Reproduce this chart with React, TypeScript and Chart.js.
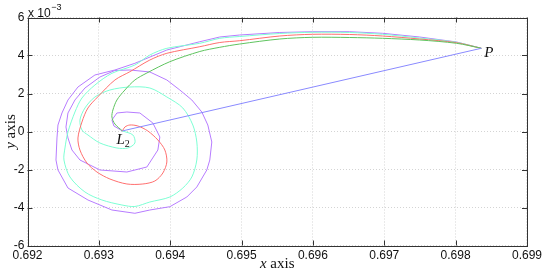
import { useEffect, useRef } from "react";
import { Chart, registerables } from "chart.js";

Chart.register(...registerables);

const P: [number, number] = [0.69836, 4.38];
const L2: [number, number] = [0.69333, 0.03];

const xTicks = [0.692, 0.693, 0.694, 0.695, 0.696, 0.697, 0.698, 0.699];
const yTicks = [-6, -4, -2, 0, 2, 4, 6];

const greenPath: [number, number][] = [
  [0.69836, 4.38], [0.698013, 4.642], [0.697495, 4.816], [0.696977, 4.905], [0.696515, 4.947],
  [0.695997, 4.958], [0.695535, 4.868], [0.694975, 4.605], [0.694695, 4.432], [0.694415, 4.211],
  [0.693995, 3.674], [0.693673, 3.079], [0.693505, 2.711], [0.693365, 2.184], [0.693253, 1.658],
  [0.693197, 1.132], [0.693183, 0.763], [0.693225, 0.395], [0.69333, 0.03],
];

const redPath: [number, number][] = [
  [0.69836, 4.38], [0.698013, 4.674], [0.697495, 4.868], [0.696977, 5.026], [0.696515, 5.105],
  [0.695997, 5.116], [0.695535, 5.026], [0.694975, 4.779], [0.694695, 4.684], [0.694415, 4.463],
  [0.693953, 4.116], [0.693715, 3.763], [0.693435, 3.147], [0.693225, 2.711], [0.692987, 1.832],
  [0.692847, 1.237], [0.692763, 0.5], [0.692707, -0.342], [0.692735, -0.974], [0.692833, -1.658],
  [0.692973, -2.132], [0.693155, -2.5], [0.693393, -2.763], [0.693617, -2.763], [0.693785, -2.605],
  [0.693897, -2.184], [0.693953, -1.605], [0.693925, -0.974], [0.693827, -0.447], [0.693687, 0.026],
  [0.693547, 0.289], [0.693435, 0.342], [0.693365, 0.237], [0.69333, 0.03],
];

const cyanPath: [number, number][] = [
  [0.69836, 4.38], [0.698013, 4.695], [0.697495, 4.921], [0.696977, 5.116], [0.696515, 5.211],
  [0.695997, 5.221], [0.695535, 5.158], [0.694975, 5.0], [0.694695, 4.905], [0.694415, 4.642],
  [0.693953, 4.379], [0.693715, 4.026], [0.693505, 3.5], [0.693183, 3.063], [0.692945, 2.447],
  [0.692763, 1.763], [0.692665, 1.026], [0.692567, -0.026], [0.692525, -0.868], [0.692511, -1.5],
  [0.692595, -2.395], [0.692805, -3.184], [0.693043, -3.605], [0.693323, -3.868], [0.693505, -3.947],
  [0.693715, -3.711], [0.693995, -3.447], [0.694177, -2.974], [0.694303, -2.395], [0.694373, -1.5],
  [0.694373, -0.553], [0.694317, 0.342], [0.694177, 1.237], [0.693953, 1.816], [0.693715, 2.289],
  [0.693435, 2.342], [0.693155, 2.184], [0.692945, 1.816], [0.692805, 1.237], [0.692735, 0.605],
  [0.692763, 0.079], [0.692847, -0.184], [0.693015, -0.605], [0.693253, -0.868], [0.693407, -0.868],
  [0.693505, -0.605], [0.693477, -0.184], [0.69333, 0.03],
];

const purplePath: [number, number][] = [
  [0.69836, 4.38], [0.698013, 4.711], [0.697495, 4.974], [0.696977, 5.168], [0.696515, 5.253],
  [0.695997, 5.253], [0.695535, 5.211], [0.694975, 5.079], [0.694695, 4.974], [0.694415, 4.726],
  [0.693953, 4.289], [0.693505, 3.589], [0.693225, 3.237], [0.692945, 2.974], [0.692707, 2.342],
  [0.692567, 1.658], [0.692483, 0.974], [0.692427, 0.342], [0.692413, -0.342], [0.692399, -1.5],
  [0.692427, -2.026], [0.692567, -2.974], [0.692847, -3.605], [0.693183, -4.132], [0.693505, -4.305],
  [0.693715, -4.132], [0.693995, -3.958], [0.694233, -3.447], [0.694373, -2.921], [0.694513, -2.026],
  [0.694555, -1.5], [0.694583, -0.553], [0.694527, 0.342], [0.694443, 1.026], [0.694303, 1.658],
  [0.694135, 2.184], [0.693953, 2.711], [0.693715, 3.132], [0.693435, 3.237], [0.693225, 3.211],
  [0.693015, 2.868], [0.692805, 2.289], [0.692665, 1.658], [0.692567, 0.974], [0.692539, 0.237],
  [0.692567, -0.342], [0.692623, -0.974], [0.692735, -1.5], [0.693015, -2.026], [0.693393, -2.132],
  [0.693673, -1.868], [0.693827, -0.974], [0.693855, -0.289], [0.693757, 0.447], [0.693575, 0.974],
  [0.693393, 1.026], [0.693253, 0.974], [0.693183, 0.605], [0.693211, 0.289], [0.69333, 0.03],
];

const bluePath: [number, number][] = [L2, P];

const toPts = (a: [number, number][]) => a.map(([x, y]) => ({ x, y }));

const decorPlugin = {
  id: "decor",
  afterDraw(chart: any) {
    const { ctx, chartArea: a, scales } = chart;
    const xs = scales.x;
    const ys = scales.y;
    ctx.save();
    // box
    ctx.strokeStyle = "#333";
    ctx.lineWidth = 1;
    ctx.strokeRect(Math.round(a.left) + 0.5, Math.round(a.top) + 0.5, Math.round(a.right - a.left), Math.round(a.bottom - a.top));
    // inward ticks
    ctx.beginPath();
    const tl = 5;
    xTicks.forEach((v) => {
      const px = Math.round(xs.getPixelForValue(v)) + 0.5;
      ctx.moveTo(px, a.bottom);
      ctx.lineTo(px, a.bottom - tl);
      ctx.moveTo(px, a.top);
      ctx.lineTo(px, a.top + tl);
    });
    yTicks.forEach((v) => {
      const py = Math.round(ys.getPixelForValue(v)) + 0.5;
      ctx.moveTo(a.left, py);
      ctx.lineTo(a.left + tl, py);
      ctx.moveTo(a.right, py);
      ctx.lineTo(a.right - tl, py);
    });
    ctx.stroke();

    ctx.fillStyle = "#111";
    // exponent label
    ctx.textBaseline = "alphabetic";
    ctx.textAlign = "left";
    ctx.font = "12px 'Liberation Sans'";
    ctx.fillText("x 10", a.left + 0.5, a.top - 1);
    const w = ctx.measureText("x 10").width;
    ctx.font = "9px 'Liberation Sans'";
    ctx.fillText("\u22123", a.left + 0.5 + w + 0.5, a.top - 8);

    // P label
    const pX = xs.getPixelForValue(P[0]);
    const pY = ys.getPixelForValue(P[1]);
    ctx.font = "italic 15px 'Liberation Serif'";
    ctx.fillText("P", pX + 3, pY + 9);

    // L2 label
    const lX = xs.getPixelForValue(L2[0]);
    const lY = ys.getPixelForValue(L2[1]);
    ctx.font = "italic 15px 'Liberation Serif'";
    ctx.fillText("L", lX - 6, lY + 13);
    const lw = ctx.measureText("L").width;
    ctx.font = "10px 'Liberation Serif'";
    ctx.fillText("2", lX - 6 + lw, lY + 16);

    // x axis title
    const cx = (a.left + a.right) / 2;
    ctx.font = "italic 15px 'Liberation Serif'";
    const wx = ctx.measureText("x").width;
    ctx.font = "15px 'Liberation Serif'";
    const wa = ctx.measureText(" axis").width;
    const sx = cx - (wx + wa) / 2;
    ctx.font = "italic 15px 'Liberation Serif'";
    ctx.fillText("x", sx, 268);
    ctx.font = "15px 'Liberation Serif'";
    ctx.fillText(" axis", sx + wx, 268);

    // y axis title
    const cy = (a.top + a.bottom) / 2;
    ctx.translate(15, cy);
    ctx.rotate(-Math.PI / 2);
    ctx.font = "italic 15px 'Liberation Serif'";
    const wy = ctx.measureText("y").width;
    ctx.font = "15px 'Liberation Serif'";
    const wa2 = ctx.measureText(" axis").width;
    const sy = -(wy + wa2) / 2;
    ctx.font = "italic 15px 'Liberation Serif'";
    ctx.fillText("y", sy, 0);
    ctx.font = "15px 'Liberation Serif'";
    ctx.fillText(" axis", sy + wy, 0);
    ctx.restore();
  },
};

export default function App() {
  const ref = useRef<HTMLCanvasElement | null>(null);
  useEffect(() => {
    if (!ref.current) return;
    const mk = (data: [number, number][], color: string, tension: number) => ({
      data: toPts(data),
      borderColor: color,
      backgroundColor: color,
      borderWidth: 1,
      pointRadius: 0,
      showLine: true,
      fill: false,
      tension,
    });
    const chart = new Chart(ref.current, {
      type: "scatter",
      data: {
        datasets: [
          mk(bluePath, "#8a8aff", 0),
          mk(greenPath, "#5fc45f", 0.3),
          mk(redPath, "#ff6f6f", 0.3),
          mk(cyanPath, "#7dffd4", 0.3),
          mk(purplePath, "#b77cff", 0),
        ],
      },
      options: {
        animation: false,
        responsive: false,
        events: [],
        layout: { padding: { left: 0, top: 17.5, right: 17.5, bottom: 0 } },
        plugins: { legend: { display: false }, tooltip: { enabled: false } },
        scales: {
          x: {
            type: "linear",
            min: 0.692,
            max: 0.699,
            afterBuildTicks: (s: any) => {
              s.ticks = xTicks.map((v) => ({ value: v }));
            },
            afterFit: (s: any) => {
              s.height = 27.5;
            },
            ticks: {
              autoSkip: false,
              maxRotation: 0,
              padding: 3,
              color: "#111",
              font: { family: "'Liberation Sans'", size: 12 },
              callback: (v: any) => Number(v).toFixed(3),
            },
            grid: { color: "#d4d4d4", lineWidth: 1, drawTicks: false },
            border: { display: false, dash: [1, 2] },
          },
          y: {
            type: "linear",
            min: -6,
            max: 6,
            afterBuildTicks: (s: any) => {
              s.ticks = yTicks.map((v) => ({ value: v }));
            },
            afterFit: (s: any) => {
              s.width = 27.5;
            },
            ticks: {
              autoSkip: false,
              padding: 3,
              color: "#111",
              font: { family: "'Liberation Sans'", size: 12 },
              callback: (v: any) => String(v),
            },
            grid: { color: "#d4d4d4", lineWidth: 1, drawTicks: false },
            border: { display: false, dash: [1, 2] },
          },
        },
      },
      plugins: [decorPlugin],
    });
    return () => chart.destroy();
  }, []);
  return (
    <div style={{ position: "absolute", left: 0, top: 0, width: 545, height: 273, background: "#fff" }}>
      <canvas ref={ref} width={545} height={273} style={{ width: 545, height: 273 }} />
    </div>
  );
}
